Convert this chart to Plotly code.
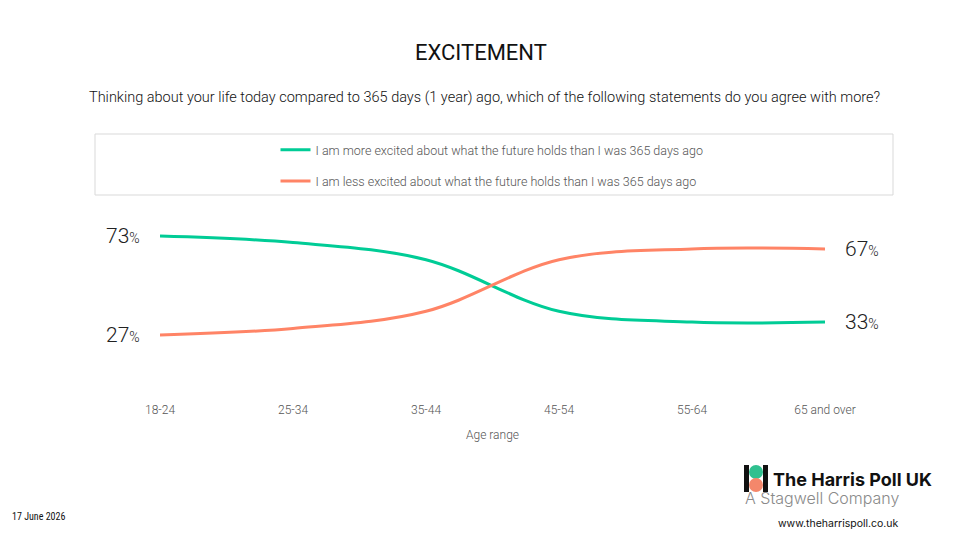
import plotly.graph_objects as go

categories = ["18-24", "25-34", "35-44", "45-54", "55-64", "65 and over"]
more_excited = [73, 70, 62, 38, 33, 33]
less_excited = [27, 30, 38, 62, 67, 67]
series_names = [
    "I am more excited about what the future holds than I was 365 days ago",
    "I am less excited about what the future holds than I was 365 days ago",
]
colors = ["#00cc96", "#ff8466"]

W, H = 960, 540
L, R, T, B = 160, 135, 178, 147
PW, PH = W - L - R, H - T - B

def px(x):
    return (x - L) / PW

def py(y):
    return 1 - (y - T) / PH

NARROW = "Liberation Sans Narrow, Arial Narrow, Roboto Condensed, Liberation Sans, sans-serif"
BASE = "Roboto, Liberation Sans, sans-serif"

fig = go.Figure()
for name, vals, col, grp in [(series_names[0], more_excited, colors[0], "a"),
                             (series_names[1], less_excited, colors[1], "b")]:
    fig.add_trace(go.Scatter(
        x=list(range(len(categories))), y=vals, mode="lines", name=name,
        legendgroup=grp,
        line=dict(color=col, width=3, shape="spline", smoothing=1.0),
        hoverinfo="skip",
    ))

# end labels
def lab(v):
    return f"{v}<span style='font-size:14px'>%</span>"

for vals in (more_excited, less_excited):
    fig.add_annotation(x=0, y=vals[0], xref="x", yref="y", text=lab(vals[0]),
                       showarrow=False, xanchor="right", xshift=-18,
                       font=dict(family=BASE, size=21, color="#222", weight=300))
    fig.add_annotation(x=len(categories) - 1, y=vals[-1], xref="x", yref="y",
                       text=lab(vals[-1]), showarrow=False, xanchor="left", xshift=18,
                       font=dict(family=BASE, size=21, color="#222", weight=300))

# titles
fig.add_annotation(x=px(481), y=py(52), xref="paper", yref="paper", text="EXCITEMENT",
                   showarrow=False, xanchor="center", yanchor="middle",
                   font=dict(family=BASE, size=22, color="#111"))
fig.add_annotation(x=px(484), y=py(97), xref="paper", yref="paper",
                   text="Thinking about your life today compared to 365 days (1 year) ago, which of the following statements do you agree with more?",
                   showarrow=False, xanchor="center", yanchor="middle",
                   font=dict(family=BASE, size=14.5, color="#111", weight=300))

# legend box
fig.add_shape(type="rect", xref="paper", yref="paper",
              x0=px(95), x1=px(893), y0=py(134), y1=py(195),
              line=dict(color="#d9d9d9", width=1), fillcolor="rgba(0,0,0,0)")

# date
fig.add_annotation(x=px(10), y=py(516), xref="paper", yref="paper", text="17 June 2026",
                   showarrow=False, xanchor="left", yanchor="middle",
                   font=dict(family=NARROW, size=10, color="#111"))

# logo
fig.add_shape(type="rect", xref="paper", yref="paper", x0=px(744), x1=px(749),
              y0=py(465), y1=py(492), fillcolor="#111", line=dict(width=0))
fig.add_shape(type="rect", xref="paper", yref="paper", x0=px(763), x1=px(768),
              y0=py(465), y1=py(492), fillcolor="#111", line=dict(width=0))
fig.add_shape(type="circle", xref="paper", yref="paper", x0=px(749), x1=px(763),
              y0=py(465), y1=py(479), fillcolor="#2fc08f", line=dict(width=0))
fig.add_shape(type="circle", xref="paper", yref="paper", x0=px(749), x1=px(763),
              y0=py(478), y1=py(492), fillcolor="#f4876b", line=dict(width=0))
fig.add_annotation(x=px(771), y=py(479), xref="paper", yref="paper",
                   text="<b>The Harris Poll UK</b>", showarrow=False, xanchor="left",
                   yanchor="middle", font=dict(family="Inter", size=18, color="#111"))
fig.add_annotation(x=px(743), y=py(498), xref="paper", yref="paper",
                   text="A Stagwell Company", showarrow=False, xanchor="left",
                   yanchor="middle", font=dict(family="Inter", size=16, color="#8a8a8a", weight=300))
fig.add_annotation(x=px(838), y=py(523), xref="paper", yref="paper",
                   text="www.theharrispoll.co.uk", showarrow=False, xanchor="center",
                   yanchor="middle", font=dict(family="Inter", size=10.5, color="#111"))

fig.update_layout(
    width=W, height=H, margin=dict(l=L, r=R, t=T, b=B),
    paper_bgcolor="white", plot_bgcolor="white",
    showlegend=True,
    legend=dict(x=px(492), y=py(135), xanchor="center", yanchor="top",
                orientation="v", tracegroupgap=12, itemwidth=30,
                font=dict(family=BASE, size=12.5, color="#555", weight=300),
                bgcolor="rgba(0,0,0,0)"),
    xaxis=dict(range=[0, len(categories) - 1], tickmode="array",
               tickvals=list(range(len(categories))), ticktext=categories,
               showgrid=False, zeroline=False, showline=False, ticks="outside",
               ticklen=6, tickcolor="rgba(0,0,0,0)",
               tickfont=dict(family=BASE, size=12, color="#555", weight=300),
               title=dict(text="Age range", standoff=14,
                          font=dict(family=BASE, size=12, color="#555", weight=300))),
    yaxis=dict(range=[0, 100], visible=False),
)

fig.write_html("out.html")
